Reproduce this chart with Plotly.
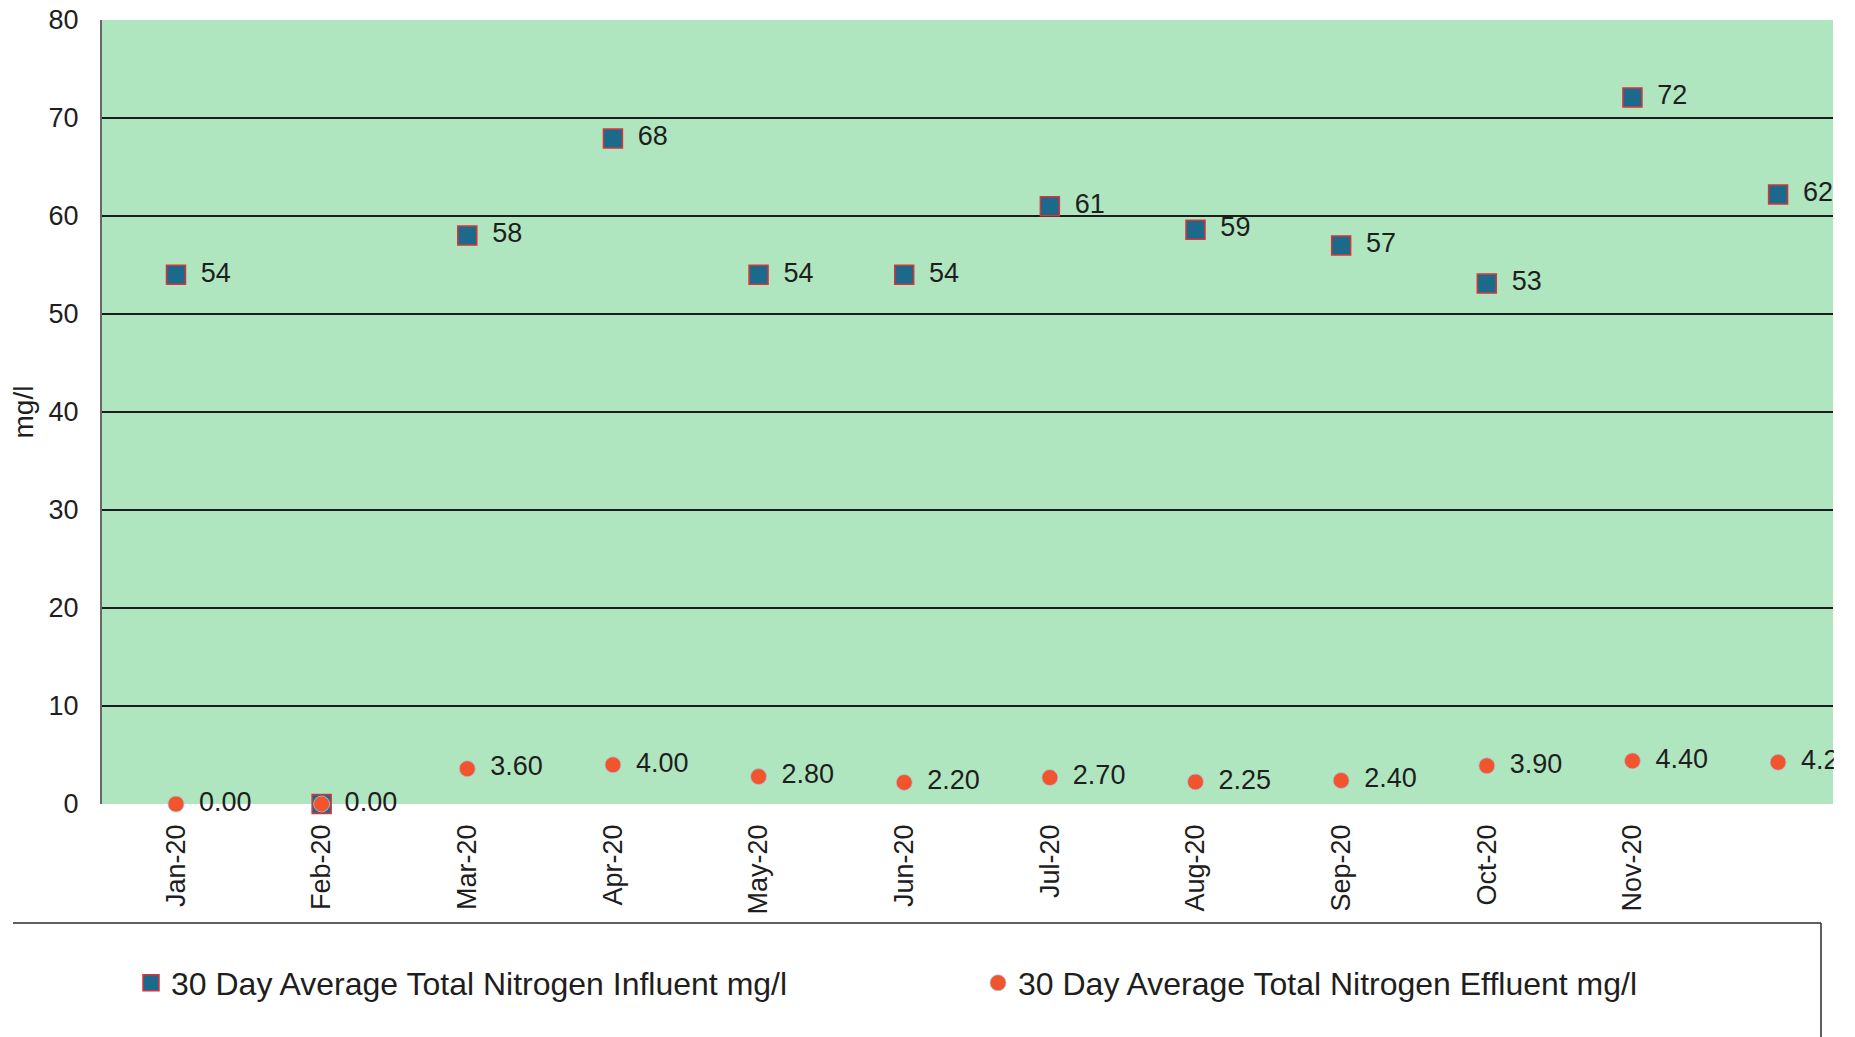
import plotly.graph_objects as go

months = ["Jan-20", "Feb-20", "Mar-20", "Apr-20", "May-20", "Jun-20",
          "Jul-20", "Aug-20", "Sep-20", "Oct-20", "Nov-20", "Dec-20"]
tick_labels = ["Jan-20", "Feb-20", "Mar-20", "Apr-20", "May-20", "Jun-20",
               "Jul-20", "Aug-20", "Sep-20", "Oct-20", "Nov-20"]
influent = [54, 0, 58, 67.9, 54, 54, 61, 58.6, 57, 53.1, 72.1, 62.2]
effluent = [0.00, 0.00, 3.60, 4.00, 2.80, 2.20, 2.70, 2.25, 2.40, 3.90, 4.40, 4.25]

FONT = "Liberation Sans, Arial, sans-serif"
W, H = 1855, 1037
L, R, T, B = 102, 22, 20, 233
PW, PH = W - L - R, H - T - B
SP = "\u00a0\u2006"

fig = go.Figure()
fig.add_trace(go.Scatter(
    x=months, y=influent, mode="markers+text",
    name="30 Day Average Total Nitrogen Influent mg/l",
    marker=dict(symbol="square", size=19, color="#1b6a8c",
                line=dict(color="#d8343a", width=1.5)),
    text=[SP + f"{v:.0f}" if v > 0 else "" for v in influent],
    textposition="middle right",
    textfont=dict(family=FONT, size=27, color="#1e1e1e"),
    cliponaxis=False, legend="legend",
))
fig.add_trace(go.Scatter(
    x=months, y=effluent, mode="markers+text",
    name="30 Day Average Total Nitrogen Effluent mg/l",
    marker=dict(symbol="circle", size=16, color="#f2542d",
                line=dict(color="#a9c7d8", width=0.8)),
    text=[SP + f"{v:.2f}" for v in effluent], textposition="middle right",
    textfont=dict(family=FONT, size=27, color="#1e1e1e"),
    cliponaxis=False, legend="legend2",
))

# mask anything spilling past the right edge of the plot area
fig.add_shape(type="rect", xref="paper", yref="paper", layer="above",
              x0=1.0005, x1=1.05, y0=-0.1, y1=1.1,
              fillcolor="white", line=dict(width=0))

# legend frame (top and right edges)
y_top = (H - B - 923) / PH
fig.add_shape(type="line", xref="paper", yref="paper",
              x0=(13 - L) / PW, x1=(1821 - L) / PW, y0=y_top, y1=y_top,
              line=dict(color="#2a2a2a", width=1.5))
fig.add_shape(type="line", xref="paper", yref="paper",
              x0=(1821 - L) / PW, x1=(1821 - L) / PW, y0=y_top, y1=(H - B - 1045) / PH,
              line=dict(color="#2a2a2a", width=1.5))

leg_common = dict(orientation="h", xanchor="left", yanchor="middle",
                  y=(H - B - 983) / PH,
                  font=dict(family=FONT, size=32, color="#1e1e1e"),
                  bgcolor="rgba(0,0,0,0)")

fig.update_layout(
    width=W, height=H,
    margin=dict(l=L, r=R, t=T, b=B),
    paper_bgcolor="white",
    plot_bgcolor="#b0e6bf",
    font=dict(family=FONT, size=27, color="#1e1e1e"),
    showlegend=True,
    legend=dict(x=(131 - L) / PW, **leg_common),
    legend2=dict(x=(978 - L) / PW, **leg_common),
    xaxis=dict(
        type="category", categoryorder="array", categoryarray=months,
        range=[-0.508, 11.377],
        tickmode="array", tickvals=tick_labels, ticktext=tick_labels,
        tickangle=-90, showgrid=False, zeroline=False,
        tickfont=dict(family=FONT, size=27, color="#1e1e1e"),
        ticks="", showline=False, ticklabelstandoff=14, automargin=False,
    ),
    yaxis=dict(
        range=[0, 80], tickmode="array", tickvals=[0, 10, 20, 30, 40, 50, 60, 70, 80],
        showgrid=True, gridcolor="#1c1c1c", gridwidth=2,
        zeroline=False, showline=True, linecolor="#666666", linewidth=2,
        ticks="", ticklabelstandoff=16, automargin=False,
        tickfont=dict(family=FONT, size=27, color="#1e1e1e"),
        title=dict(text="mg/l", font=dict(family=FONT, size=28, color="#1e1e1e"), standoff=7),
    ),
)

fig.write_html("out.html")
